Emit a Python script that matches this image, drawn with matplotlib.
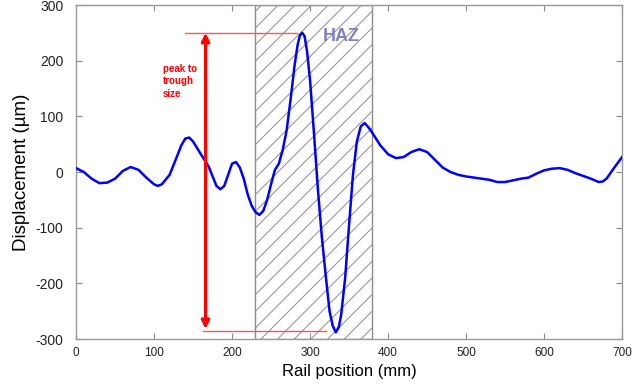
import matplotlib
matplotlib.use("Agg")
import matplotlib.pyplot as plt

plt.rcParams['font.family'] = ['Liberation Sans', 'DejaVu Sans']
plt.rcParams['hatch.linewidth'] = 0.7
plt.rcParams['axes.unicode_minus'] = False

# rail position (mm) and displacement (um)
position = [0, 10, 20, 30, 40, 50, 60, 70, 80, 90, 100, 105, 110, 120, 130,
            135, 140, 145, 150, 160, 170, 180, 185, 190, 195, 200, 205, 210, 215,
            220, 225, 230, 235, 240, 245, 250, 255, 260, 265, 270, 275, 280,
            284, 287, 290, 293, 296, 300, 305, 310, 315, 320, 325, 329, 333, 337, 340,
            345, 350, 355, 360, 365, 370, 375, 380, 390, 400, 410, 420, 430,
            440, 450, 460, 470, 480, 490, 500, 510, 520, 530, 540, 550, 560,
            570, 580, 590, 600, 610, 620, 630, 640, 650, 660, 670, 675, 680,
            690, 700]
displacement = [7, 0, -12, -20, -19, -12, 2, 9, 4, -10, -22, -25, -22, -5, 30,
                48, 60, 62, 55, 32, 10, -25, -31, -25, -5, 15, 18, 8, -12,
                -40, -60, -72, -77, -70, -50, -22, 4, 15, 40, 75, 130, 190,
                228, 246, 250, 244, 218, 165, 70, -30, -115, -185, -250, -276, -288, -278, -255,
                -190, -95, -5, 55, 82, 88, 80, 70, 48, 32, 25, 27, 36,
                41, 36, 22, 8, 0, -5, -8, -10, -12, -14, -18, -18, -15,
                -12, -10, -3, 3, 6, 7, 4, -2, -7, -12, -18, -17, -12,
                8, 27]

haz = (230, 380)
peak = (290, 250)
trough = (333, -286)
arrow_x = 166
xticks = [0, 100, 200, 300, 400, 500, 600, 700]
yticks = [-300, -200, -100, 0, 100, 200, 300]

fig = plt.figure(figsize=(6.35, 3.89), dpi=100)
ax = fig.add_axes([0.1197, 0.1285, 0.86, 0.8585])

ax.axvspan(haz[0], haz[1], facecolor='none', edgecolor='#8c8c8c',
           hatch='//', linewidth=1.0, zorder=1)

ax.plot(position, displacement, color='#0000ff', linewidth=1.8, zorder=3)

# peak to trough marker
ax.plot([140, 283], [peak[1], peak[1]], color='#ff5555', linewidth=1.0, zorder=2)
ax.plot([arrow_x - 3, 320], [trough[1], trough[1]], color='#ff5555', linewidth=1.0, zorder=2)
ax.annotate('', xy=(arrow_x, trough[1] + 4), xytext=(arrow_x, peak[1]),
            arrowprops=dict(arrowstyle='<|-|>', color='#ff0000', lw=2.2,
                            mutation_scale=12, shrinkA=0, shrinkB=0), zorder=4)
ax.text(111, 194, 'peak to\ntrough\nsize', color='#ff0000', fontsize=7,
        fontweight='bold', va='top', ha='left', linespacing=1.3)
ax.text(340, 243, 'HAZ', color='#7f82bd', fontsize=13, fontweight='bold',
        ha='center', va='center')

ax.set_xlim(0, 700)
ax.set_ylim(-300, 300)
ax.set_xticks(xticks)
ax.set_yticks(yticks)
ax.tick_params(direction='in', length=4, width=0.8, color='#888888',
               top=True, right=True, labelcolor='#222222')
ax.tick_params(axis='x', labelsize=8.5, pad=6)
ax.tick_params(axis='y', labelsize=10, pad=9)
for s in ax.spines.values():
    s.set_color('#999999')
    s.set_linewidth(1.0)

ax.set_xlabel('Rail position (mm)', fontsize=12, labelpad=3)
ax.set_ylabel('Displacement (µm)', fontsize=13.5, labelpad=4)

fig.savefig('out.png', dpi=100)
